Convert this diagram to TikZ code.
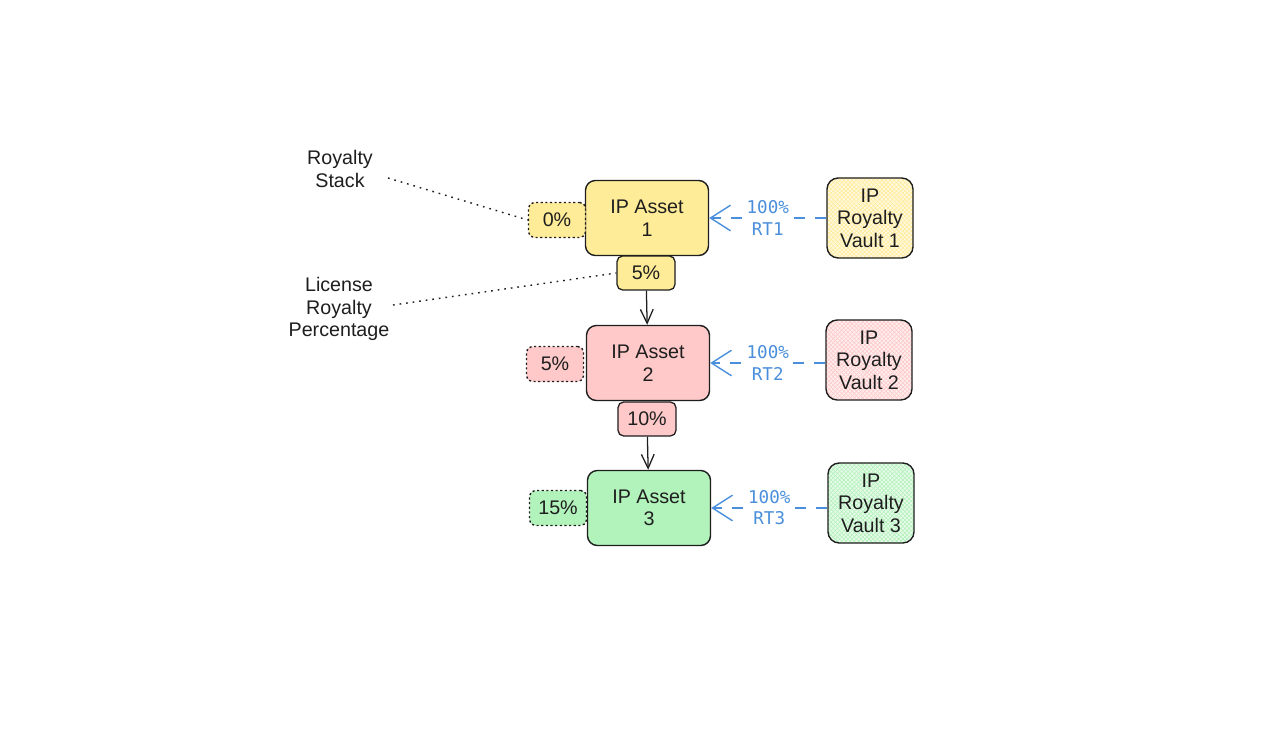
\documentclass[tikz,border=0pt]{standalone}
\usepackage{fontspec}
\setmainfont{Liberation Sans}
\newfontfamily\rtfont{DejaVu Sans Mono}
\usetikzlibrary{arrows.meta,patterns}
\definecolor{ipyellow}{HTML}{FFEC99}
\definecolor{ippink}{HTML}{FFC9C9}
\definecolor{ipgreen}{HTML}{B2F2BB}
\definecolor{rtblue}{HTML}{4A8FDB}
\definecolor{ink}{HTML}{1E1E1E}
\tikzset{
  >={Straight Barb[length=3.5mm,width=3.2mm]},
}
\tikzstyle{every node}=[text=ink,font=\fontsize{14}{16}\selectfont]
\tikzstyle{asset}=[draw=ink,line width=1pt,rounded corners=7pt,minimum width=3.075cm,minimum height=1.875cm,align=center]
\tikzstyle{stack}=[draw=ink,line width=1pt,dash pattern=on 1.5pt off 1.8pt,rounded corners=4pt,minimum width=1.425cm,minimum height=.875cm]
\tikzstyle{lic}=[draw=ink,line width=.9pt,rounded corners=4pt,minimum width=1.45cm,minimum height=.85cm]
\tikzstyle{vault}=[draw=ink,line width=1pt,rounded corners=8pt,minimum width=2.15cm,minimum height=2cm,align=center]
\tikzstyle{rt}=[rtblue,line width=1pt,dash pattern=on 8pt off 7pt,-{Straight Barb[length=5mm,width=6.4mm]}]
\tikzstyle{rtlabel}=[fill=white,text=rtblue,align=center,inner sep=3pt,font=\rtfont\fontsize{12.5}{15}\selectfont]
\tikzstyle{note}=[align=center]
\tikzstyle{pointer}=[ink,line width=1pt,dash pattern=on 1.2pt off 3.5pt]

\begin{document}
\begin{tikzpicture}[x=.025cm,y=-.025cm]
    \useasboundingbox (0,0) rectangle (1280,750);
    \node[asset,fill=ipyellow] (asset1) at (647,218) {IP Asset\\1};
    \node[asset,fill=ippink] (asset2) at (648,363) {IP Asset\\2};
    \node[asset,fill=ipgreen] (asset3) at (649,508) {IP Asset\\3};
    \node[stack,fill=ipyellow] (stack1) at (557,220) {0\%};
    \node[stack,fill=ippink] (stack2) at (555,364) {5\%};
    \node[stack,fill=ipgreen] (stack3) at (558,508) {15\%};
    \node[lic,fill=ipyellow] (lic1) at (646,273) {5\%};
    \node[lic,fill=ippink] (lic2) at (647,419) {10\%};
    \node[vault,preaction={fill=ipyellow!30},pattern=crosshatch,pattern color=ipyellow] (vault1) at (870,218) {IP\\Royalty\\Vault 1};
    \node[vault,preaction={fill=ippink!30},pattern=crosshatch,pattern color=ippink] (vault2) at (869,360) {IP\\Royalty\\Vault 2};
    \node[vault,preaction={fill=ipgreen!30},pattern=crosshatch,pattern color=ipgreen] (vault3) at (871,503) {IP\\Royalty\\Vault 3};
    \draw[ink,line width=.9pt,->] (lic1) -- (asset2);
    \draw[ink,line width=.9pt,->] (lic2) -- (asset3);
    \draw[rt] (vault1) -- node[rtlabel]{100\%\\RT1} (asset1);
    \draw[rt] (vault2.west|-asset2) -- node[rtlabel]{100\%\\RT2} (asset2);
    \draw[rt] (vault3.west|-asset3) -- node[rtlabel]{100\%\\RT3} (asset3);
    \node[note] (stacknote) at (340,169) {Royalty\\Stack};
    \node[note] (licnote) at (339,309) {License\\Royalty\\Percentage};
    \coordinate (stackend) at (388,178);
    \coordinate (licend) at (393,305);
    \draw[pointer] (stackend) -- (stack1.west);
    \draw[pointer] (licend) -- (lic1.west);
\end{tikzpicture}
\end{document}
